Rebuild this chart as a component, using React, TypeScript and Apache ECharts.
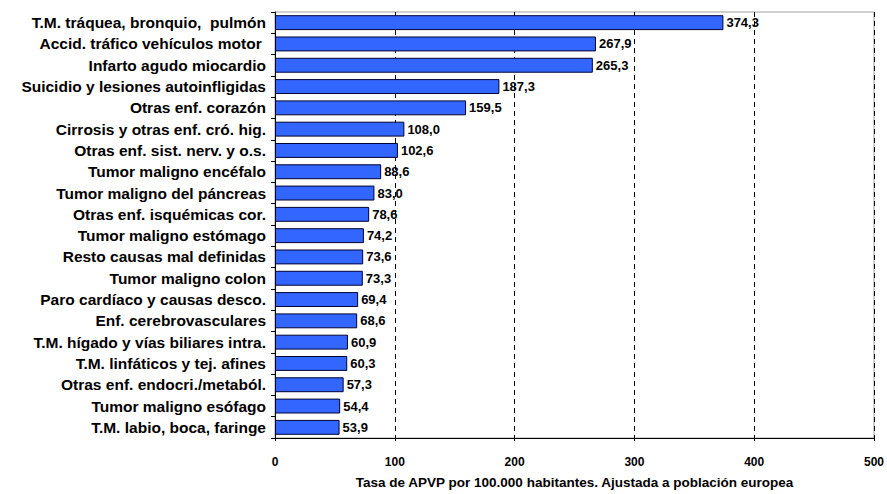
import React, { useEffect, useRef } from "react";
import * as echarts from "echarts";

const categories = [
  "T.M. tráquea, bronquio,  pulmón",
  "Accid. tráfico vehículos motor ",
  "Infarto agudo miocardio",
  "Suicidio y lesiones autoinfligidas",
  "Otras enf. corazón",
  "Cirrosis y otras enf. cró. hig.",
  "Otras enf. sist. nerv. y o.s.",
  "Tumor maligno encéfalo",
  "Tumor maligno del páncreas",
  "Otras enf. isquémicas cor.",
  "Tumor maligno estómago",
  "Resto causas mal definidas",
  "Tumor maligno colon",
  "Paro cardíaco y causas desco.",
  "Enf. cerebrovasculares",
  "T.M. hígado y vías biliares intra.",
  "T.M. linfáticos y tej. afines",
  "Otras enf. endocri./metaból.",
  "Tumor maligno esófago",
  "T.M. labio, boca, faringe",
];

const values = [
  374.3, 267.9, 265.3, 187.3, 159.5, 108.0, 102.6, 88.6, 83.0, 78.6, 74.2,
  73.6, 73.3, 69.4, 68.6, 60.9, 60.3, 57.3, 54.4, 53.9,
];

const axisTitle =
  "Tasa de APVP por 100.000 habitantes. Ajustada a población europea";

const FONT = "'Liberation Sans', Arial, sans-serif";

export default function App() {
  const ref = useRef<HTMLDivElement>(null);

  useEffect(() => {
    if (!ref.current) return;
    const chart = echarts.init(ref.current, undefined, { renderer: "svg" });
    chart.setOption({
      animation: false,
      backgroundColor: "#ffffff",
      grid: {
        left: 275,
        right: 12,
        top: 12,
        bottom: 51,
        show: true,
        borderColor: "#a0a0a0",
        borderWidth: 1,
        backgroundColor: "transparent",
      },
      xAxis: {
        type: "value",
        min: 0,
        max: 500,
        interval: 100,
        name: axisTitle,
        nameLocation: "middle",
        nameGap: 37,
        nameTextStyle: {
          fontFamily: FONT,
          fontWeight: "bold",
          fontSize: 13.5,
          color: "#000",
        },
        axisLine: { show: true, lineStyle: { color: "#000", width: 1 } },
        axisTick: { show: true, length: 3, lineStyle: { color: "#000" } },
        axisLabel: {
          fontFamily: FONT,
          fontWeight: "bold",
          fontSize: 12,
          color: "#000",
          margin: 18,
        },
        splitLine: {
          show: true,
          lineStyle: { color: "#000", type: [5, 4], width: 1 },
        },
      },
      yAxis: {
        type: "category",
        inverse: true,
        data: categories,
        axisLine: { show: true, lineStyle: { color: "#000", width: 1 } },
        axisTick: { show: true, length: 4, lineStyle: { color: "#000" } },
        axisLabel: {
          fontFamily: FONT,
          fontWeight: "bold",
          fontSize: 15.5,
          color: "#000",
          margin: 9,
        },
        splitLine: { show: false },
      },
      series: [
        {
          type: "bar",
          data: values,
          barCategoryGap: "30%",
          itemStyle: {
            color: "#3366ff",
            borderColor: "#000033",
            borderWidth: 1,
          },
          label: {
            show: true,
            position: "right",
            distance: 3,
            fontFamily: FONT,
            fontWeight: "bold",
            fontSize: 13,
            color: "#000",
            formatter: (p: any) => Number(p.value).toFixed(1).replace(".", ","),
          },
        },
      ],
    });
    return () => chart.dispose();
  }, []);

  return (
    <div
      ref={ref}
      style={{
        position: "fixed",
        left: 0,
        top: 0,
        width: "887px",
        height: "494px",
      }}
    />
  );
}
